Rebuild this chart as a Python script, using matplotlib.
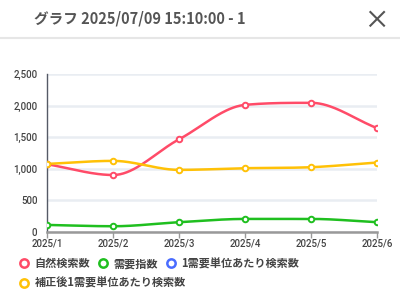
import numpy as np
import matplotlib
matplotlib.use("Agg")
import matplotlib.pyplot as plt
from matplotlib.lines import Line2D

plt.rcParams['font.family'] = ['Noto Sans CJK JP', 'DejaVu Sans']

# Dados
meses = ["2025/1", "2025/2", "2025/3", "2025/4", "2025/5", "2025/6"]
busca_natural = [1070, 900, 1468, 2013, 2045, 1643]
indice_demanda = [108, 87, 151, 203, 203, 151]
busca_por_unidade = []  # sem dados
busca_corrigida = [1076, 1124, 981, 1008, 1024, 1098]

rotulos = ["自然検索数", "需要指数", "1需要単位あたり検索数", "補正後1需要単位あたり検索数"]
cores = ["#ff4b68", "#1fbf1f", "#4a6cff", "#ffc107"]
yticks = [0, 500, 1000, 1500, 2000, 2500]


def monotone(x, y, n=40):
    """Interpolação cúbica monótona (Fritsch-Carlson) só para suavizar a linha."""
    x = np.asarray(x, float)
    y = np.asarray(y, float)
    d = np.diff(y) / np.diff(x)
    m = np.zeros_like(y)
    m[0], m[-1] = d[0], d[-1]
    for i in range(1, len(y) - 1):
        if d[i - 1] * d[i] <= 0:
            m[i] = 0
        else:
            m[i] = (d[i - 1] + d[i]) / 2
    for i in range(len(d)):
        if d[i] == 0:
            m[i] = m[i + 1] = 0
            continue
        a, b = m[i] / d[i], m[i + 1] / d[i]
        s = a * a + b * b
        if s > 9:
            t = 3 / np.sqrt(s)
            m[i], m[i + 1] = t * a * d[i], t * b * d[i]
    xs, ys = [], []
    for i in range(len(d)):
        h = x[i + 1] - x[i]
        t = np.linspace(0, 1, n)
        h00 = 2 * t**3 - 3 * t**2 + 1
        h10 = t**3 - 2 * t**2 + t
        h01 = -2 * t**3 + 3 * t**2
        h11 = t**3 - t**2
        xs.append(x[i] + t * h)
        ys.append(h00 * y[i] + h10 * h * m[i] + h01 * y[i + 1] + h11 * h * m[i + 1])
    return np.concatenate(xs), np.concatenate(ys)


fig = plt.figure(figsize=(4, 2.99), dpi=100)

# Cabeçalho
fig.text(0.085, 0.937, "グラフ 2025/07/09 15:10:00 - 1", fontsize=10.5,
         fontweight='bold', color='#555555', va='center')
# botão fechar (X)
cx, cy, r = 0.943, 0.937, 0.017
fig.add_artist(Line2D([cx - r, cx + r], [cy - r * 1.34, cy + r * 1.34], color='#555555', lw=1.5))
fig.add_artist(Line2D([cx - r, cx + r], [cy + r * 1.34, cy - r * 1.34], color='#555555', lw=1.5))
fig.add_artist(Line2D([0, 1], [0.873, 0.873], color='#e6e6e6', lw=1.5))

ax = fig.add_axes([0.118, 0.225, 0.825, 0.527])
xs = np.arange(len(meses))
series = [busca_natural, indice_demanda, busca_por_unidade, busca_corrigida]
ordem = [2, 0, 1, 3]
for idx in ordem:
    vals = series[idx]
    if len(vals) == 0:
        continue
    sx, sy = monotone(xs, vals)
    ax.plot(sx, sy, color=cores[idx], lw=1.8, zorder=3, solid_capstyle='round')
    ax.plot(xs, vals, 'o', ms=4, mfc='white', mec=cores[idx], mew=1.4, zorder=4)

ax.set_xlim(0, len(meses) - 1)
ax.set_ylim(0, 2500)
ax.set_yticks(yticks)
ax.set_yticklabels([f"{v:,}" for v in yticks])
ax.set_xticks(xs)
ax.set_xticklabels(meses)
ax.grid(axis='y', color='#e9edf2', lw=1.8)
ax.set_axisbelow(True)
for lado in ['top', 'right']:
    ax.spines[lado].set_visible(False)
ax.spines['left'].set_color('#555a66')
ax.spines['left'].set_linewidth(1)
ax.spines['bottom'].set_color('#999999')
ax.spines['bottom'].set_linewidth(1.8)
ax.tick_params(axis='y', length=0, pad=7, labelsize=7, labelcolor='#444444')
ax.tick_params(axis='x', length=4, width=1, color='#999999', pad=1,
               labelsize=7, labelcolor='#444444')
for t in ax.get_xticklabels() + ax.get_yticklabels():
    t.set_family(['Roboto', 'DejaVu Sans'])
    t.set_fontweight('medium')

# Legenda manual em duas linhas
handles = [Line2D([], [], ls='none', marker='o', ms=6, mfc='white', mec=c, mew=1.8)
           for c in cores]
leg1 = fig.legend(handles[:3], rotulos[:3], loc='center left', bbox_to_anchor=(0.025, 0.118),
                  ncol=3, frameon=False, fontsize=8, handlelength=0.8, handletextpad=0.5,
                  columnspacing=0.8, labelcolor='#444444')
leg2 = fig.legend(handles[3:], rotulos[3:], loc='center left', bbox_to_anchor=(0.025, 0.052),
                  ncol=1, frameon=False, fontsize=8, handlelength=0.8, handletextpad=0.5,
                  labelcolor='#444444')
for lg in (leg1, leg2):
    for t in lg.get_texts():
        t.set_fontweight('bold')

fig.savefig("out.png", dpi=100)
